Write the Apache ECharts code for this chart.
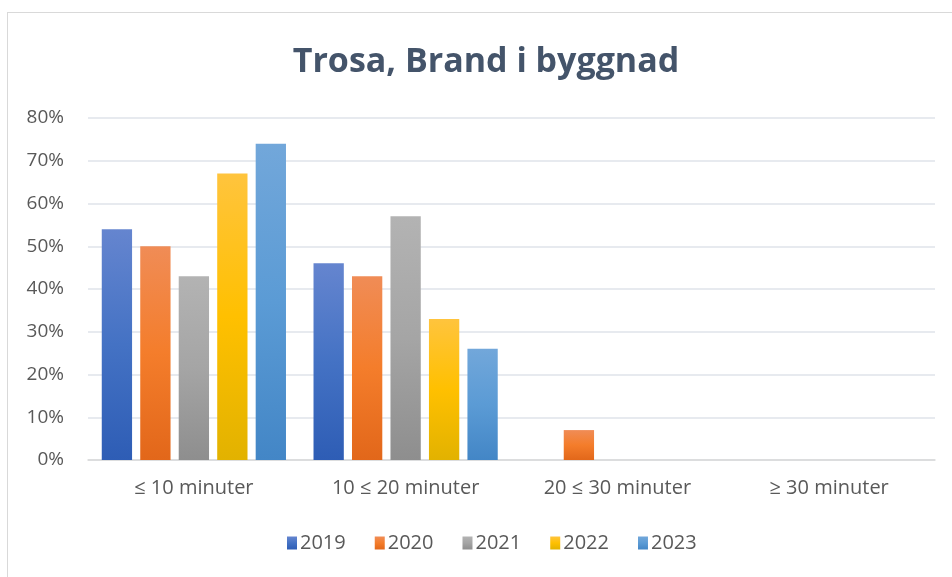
<!DOCTYPE html>
<html>
<head>
<meta charset="utf-8">
<script src="https://cdn.jsdelivr.net/npm/echarts@6/dist/echarts.min.js"></script>
<style>
  html, body { margin: 0; padding: 0; background: #fff; }
  #frame {
    position: absolute; left: 7px; top: 12px; width: 960px; height: 580px;
    border: 1px solid #d9d9d9; box-sizing: border-box;
  }
  #chart { width: 952px; height: 577px; position: absolute; left: 0; top: 0; }
</style>
</head>
<body>
<div id="frame"></div>
<div id="chart"></div>
<script>
var categories = ["≤ 10 minuter", "10 ≤ 20 minuter", "20 ≤ 30 minuter", "≥ 30 minuter"];
var years = ["2019", "2020", "2021", "2022", "2023"];
var v2019 = [54, 46, 0, 0];
var v2020 = [50, 43, 7, 0];
var v2021 = [43, 57, 0, 0];
var v2022 = [67, 33, 0, 0];
var v2023 = [74, 26, 0, 0];
var yTicks = [0, 10, 20, 30, 40, 50, 60, 70, 80];

var values = [v2019, v2020, v2021, v2022, v2023];
// top / mid / bottom shades like the Excel gradient fill
var shades = [
  ["#6585cf", "#4472c4", "#2e5db5"],
  ["#f08c56", "#f47d2b", "#e2671a"],
  ["#b3b3b3", "#a5a5a5", "#8e8e8e"],
  ["#ffc43d", "#ffc000", "#e2b200"],
  ["#72a7da", "#5b9bd5", "#4386c6"]
];

function grad(s) {
  return new echarts.graphic.LinearGradient(0, 0, 0, 1, [
    { offset: 0, color: s[0] },
    { offset: 0.5, color: s[1] },
    { offset: 1, color: s[2] }
  ]);
}

var myChart = echarts.init(document.getElementById("chart"));
myChart.setOption({
  animation: false,
  textStyle: { fontFamily: "Open Sans" },
  title: {
    text: "Trosa, Brand i byggnad",
    left: 481,
    top: 40,
    textAlign: "center",
    textStyle: { fontSize: 34, fontWeight: "bold", color: "#44546a", fontFamily: "Open Sans" }
  },
  legend: {
    data: years,
    left: 282,
    top: 528,
    itemWidth: 10,
    itemHeight: 13,
    itemGap: 29,
    icon: "rect",
    textStyle: { fontSize: 20, color: "#595959", padding: [0, 0, 0, -2] }
  },
  grid: { left: 88, right: 17, top: 118, bottom: 117 },
  xAxis: {
    type: "category",
    data: categories,
    axisLine: { lineStyle: { color: "#d9d9d9", width: 1.5 } },
    axisTick: { show: false },
    axisLabel: { fontSize: 20, color: "#595959", margin: 18 }
  },
  yAxis: {
    type: "value",
    min: yTicks[0],
    max: yTicks[yTicks.length - 1],
    interval: 10,
    axisLine: { show: false },
    axisTick: { show: false },
    splitLine: { lineStyle: { color: "#dfe3ea", width: 1.5 } },
    axisLabel: { fontSize: 19, color: "#595959", margin: 24, formatter: "{value}%" }
  },
  series: years.map(function (y, i) {
    return {
      name: y,
      type: "bar",
      data: values[i],
      barGap: "27%",
      barCategoryGap: "13%",
      itemStyle: { color: grad(shades[i]) }
    };
  })
});
</script>
</body>
</html>
